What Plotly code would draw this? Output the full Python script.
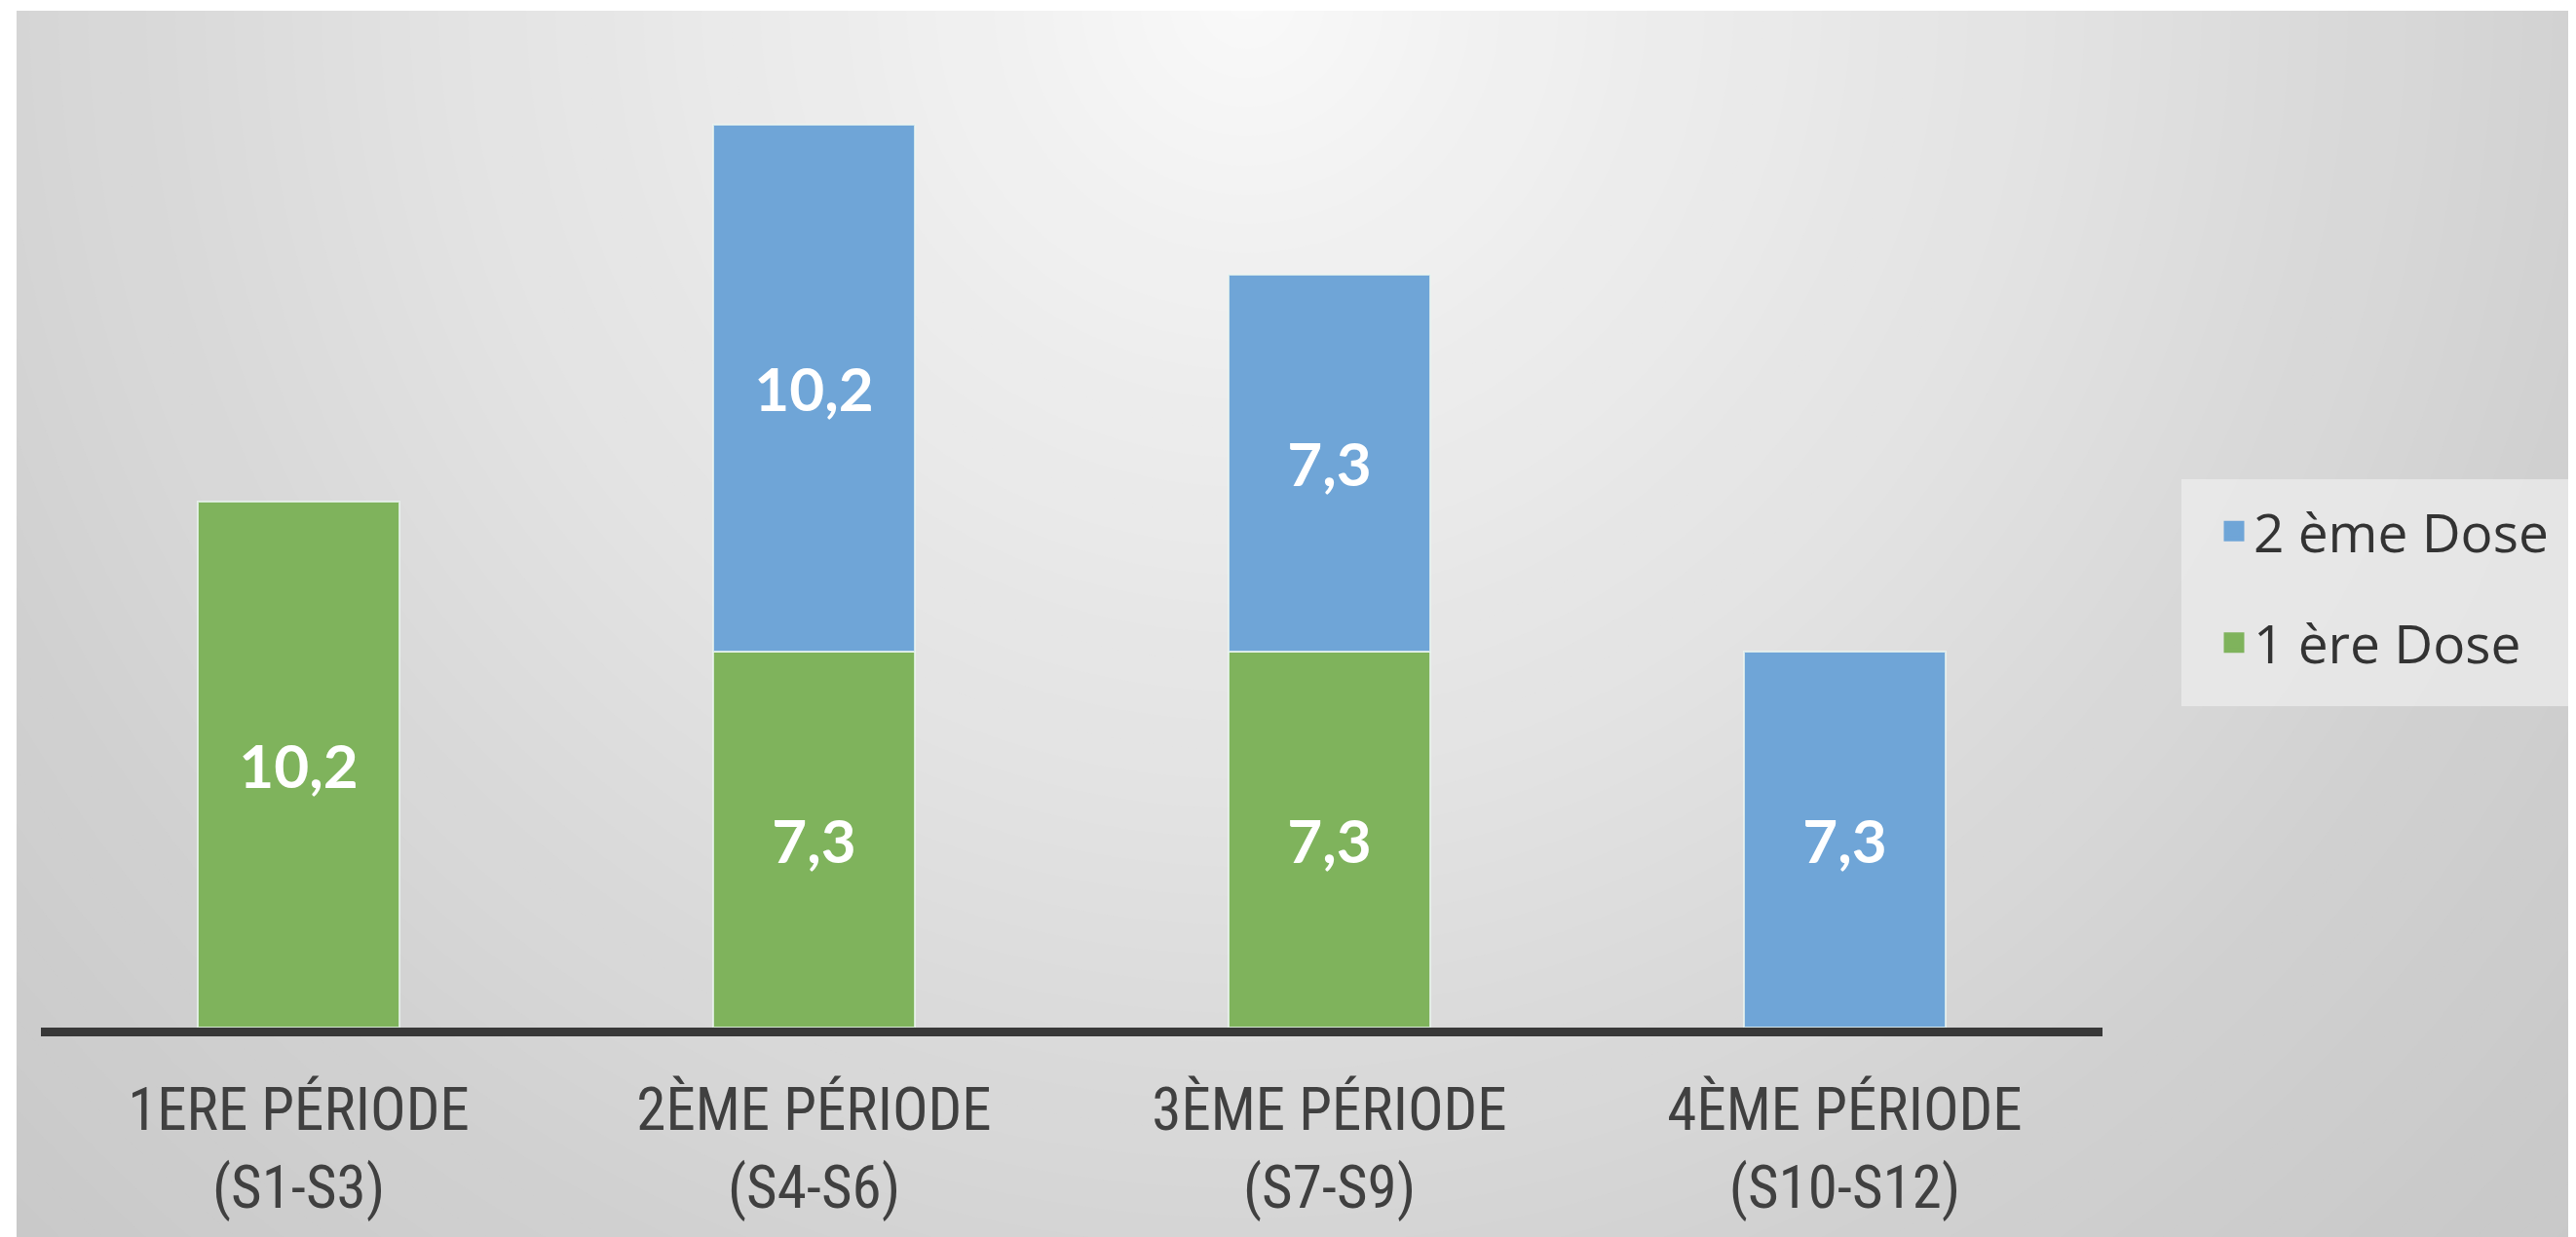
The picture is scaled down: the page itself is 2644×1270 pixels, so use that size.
import plotly.graph_objects as go

# ---- data ----
categories = ["1ERE PÉRIODE<br>(S1-S3)", "2ÈME PÉRIODE<br>(S4-S6)",
              "3ÈME PÉRIODE<br>(S7-S9)", "4ÈME PÉRIODE<br>(S10-S12)"]
dose1 = [10.2, 7.3, 7.3, None]
dose2 = [None, 10.2, 7.3, 7.3]
series_names = ["1 ère Dose", "2 ème Dose"]
series_colors = ["#7fb35c", "#6fa5d7"]

W, H = 2644, 1270
L, R, T, B = 34, 494, 94, 223
PW, PH = W - L - R, H - T - B

def px_x(p):
    return (p - L) / PW

def px_y(p):
    return (H - B - p) / PH

# radial background gradient (decoration)
stops = [(0, 250), (260, 241), (860, 226), (1270, 213), (1400, 209), (1800, 201), (2400, 196)]

def grey_at(d):
    for (d0, c0), (d1, c1) in zip(stops[:-1], stops[1:]):
        if d <= d1:
            t = (d - d0) / (d1 - d0)
            return round(c0 + t * (c1 - c0))
    return stops[-1][1]

cx, cy = 1272, -8
shapes = []
r = 2300
while r > 0:
    g = grey_at(r)
    shapes.append(dict(type="circle", xref="paper", yref="paper", layer="below",
                       x0=px_x(cx - r), x1=px_x(cx + r), y0=px_y(cy + r), y1=px_y(cy - r),
                       fillcolor=f"rgb({g},{g},{g})", line=dict(width=0)))
    r -= 30
# white border strips
shapes.append(dict(type="rect", xref="paper", yref="paper", layer="below",
                   x0=px_x(-20), x1=px_x(9), y0=px_y(H + 20), y1=px_y(-20),
                   fillcolor="white", line=dict(width=0)))
shapes.append(dict(type="rect", xref="paper", yref="paper", layer="below",
                   x0=px_x(-20), x1=px_x(W + 20), y0=px_y(3), y1=px_y(-20),
                   fillcolor="white", line=dict(width=0)))
# legend box background
shapes.append(dict(type="rect", xref="paper", yref="paper", layer="below",
                   x0=px_x(2231), x1=px_x(W + 20), y0=px_y(717), y1=px_y(484),
                   fillcolor="rgba(236,236,236,0.75)", line=dict(width=0)))

fig = go.Figure()
for vals, name, col in [(dose1, series_names[0], series_colors[0]),
                        (dose2, series_names[1], series_colors[1])]:
    fig.add_trace(go.Bar(
        x=categories, y=vals, name=name, showlegend=False,
        marker=dict(color=col, line=dict(color="rgba(235,245,240,0.8)", width=2)),
        texttemplate="%{y:.1f}", textposition="inside", insidetextanchor="middle",
        textfont=dict(family="Lato", size=62, color="white", weight="bold"),
        hoverinfo="skip",
    ))

# legend entries (larger square symbols), top to bottom: 2ème, 1ère
for name, col in [(series_names[1], series_colors[1]), (series_names[0], series_colors[0])]:
    fig.add_trace(go.Scatter(
        x=[None], y=[None], mode="markers", name=name, legendgroup=name,
        marker=dict(symbol="square", size=16, color=col, line=dict(color=col, width=5)),
        hoverinfo="skip",
    ))

fig.update_layout(
    width=W, height=H,
    margin=dict(l=L, r=R, t=T, b=B, pad=0),
    barmode="stack", bargap=0.61,
    separators=", ",
    paper_bgcolor="white", plot_bgcolor="rgba(0,0,0,0)",
    shapes=shapes,
    showlegend=True,
    legend=dict(x=px_x(2265), y=px_y(495), xanchor="left", yanchor="top",
                traceorder="grouped", tracegroupgap=40,
                bgcolor="rgba(0,0,0,0)",
                font=dict(family="Open Sans", size=55, color="#333333")),
)
fig.update_xaxes(
    showline=True, linecolor="#383838", linewidth=9,
    showgrid=False, zeroline=False, ticks="",
    tickfont=dict(family="Liberation Sans Narrow, Roboto Condensed, sans-serif", size=61, color="#404040"),
    ticklabelstandoff=23,
)
fig.update_yaxes(range=[0, 18], visible=False, showgrid=False, zeroline=False)

fig.write_html("out.html")
